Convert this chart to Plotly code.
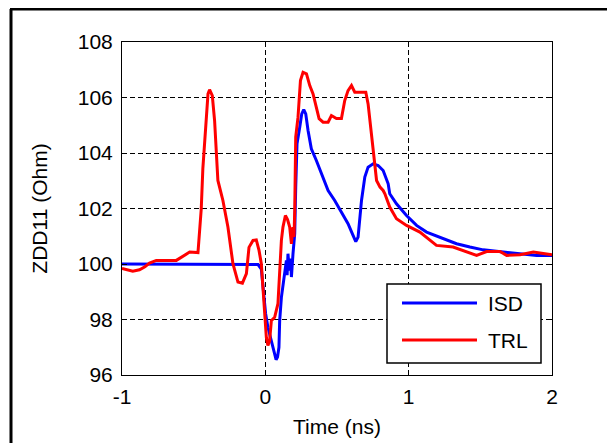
import plotly.graph_objects as go

# ---- data ----
isd_t = [-1.0, -0.063, -0.051, -0.028, -0.017, 0.002, 0.018, 0.042, 0.065, 0.075, 0.085, 0.095,
         0.10, 0.112, 0.128, 0.14, 0.147, 0.152, 0.158, 0.165, 0.17, 0.176, 0.182, 0.193, 0.205,
         0.212, 0.221, 0.24, 0.254, 0.268, 0.282, 0.298, 0.321, 0.356, 0.391, 0.438, 0.484, 0.531,
         0.577, 0.612, 0.631, 0.647, 0.671, 0.694, 0.717, 0.752, 0.787, 0.822, 0.857, 0.868, 0.915,
         0.985, 1.055, 1.125, 1.218, 1.334, 1.427, 1.52, 1.66, 1.777, 1.893, 2.0]
isd_z = [100.0, 100.0, 99.98, 99.82, 99.17, 98.21, 97.72, 97.24, 96.82, 96.55, 96.65, 97.0,
         97.96, 98.8, 99.41, 100.0, 100.13, 99.6, 100.37, 99.9, 99.77, 100.2, 99.53, 100.37, 101.09,
         102.77, 104.33, 104.93, 105.41, 105.56, 105.41, 104.81, 104.15, 103.73, 103.25, 102.65, 102.29, 101.87,
         101.45, 101.03, 100.81, 100.97, 102.29, 103.13, 103.49, 103.61, 103.55, 103.37, 102.89, 102.53, 102.17,
         101.75, 101.39, 101.15, 100.97, 100.73, 100.61, 100.51, 100.43, 100.37, 100.31, 100.31]

trl_t = [-1.0, -0.96, -0.925, -0.878, -0.84, -0.808, -0.761, -0.621, -0.575, -0.528, -0.47, -0.459,
         -0.447, -0.436, -0.417, -0.40, -0.389, -0.37, -0.354, -0.338, -0.331, -0.296, -0.261, -0.226,
         -0.191, -0.16, -0.132, -0.114, -0.086, -0.063, -0.044, -0.028, -0.017, -0.005, 0.007, 0.018,
         0.03, 0.042, 0.065, 0.088, 0.100, 0.112, 0.123, 0.140, 0.155, 0.170, 0.182, 0.193, 0.200,
         0.205, 0.212, 0.228, 0.245, 0.263, 0.287, 0.31, 0.333, 0.357, 0.375, 0.403, 0.438, 0.461,
         0.496, 0.531, 0.554, 0.577, 0.601, 0.624, 0.659, 0.701, 0.717, 0.741, 0.759, 0.776, 0.80,
         0.822, 0.834, 0.868, 0.915, 0.985, 1.078, 1.148, 1.194, 1.31, 1.404, 1.474, 1.544, 1.637,
         1.684, 1.777, 1.87, 2.0]
trl_z = [99.84, 99.78, 99.74, 99.79, 99.9, 100.03, 100.13, 100.13, 100.29, 100.43, 100.41, 101.09,
         101.99, 103.43, 104.93, 106.13, 106.28, 106.07, 105.17, 103.85, 103.01, 102.29, 101.33, 100.01,
         99.35, 99.31, 99.65, 100.6, 100.85, 100.87, 100.49, 100.01, 99.17, 98.21, 97.36, 97.06,
         97.24, 97.96, 98.08, 98.57, 99.77, 100.85, 101.33, 101.75, 101.6, 101.33, 100.73, 101.33, 100.97,
         101.93, 104.57, 105.29, 106.61, 106.91, 106.85, 106.43, 106.13, 105.65, 105.24, 105.11, 105.11, 105.35,
         105.24, 105.24, 105.89, 106.25, 106.43, 106.19, 106.19, 106.19, 105.77, 104.57, 103.73, 103.01, 102.77,
         102.65, 102.53, 102.05, 101.63, 101.39, 101.15, 100.85, 100.67, 100.61, 100.43, 100.31, 100.45, 100.45,
         100.31, 100.33, 100.43, 100.33]

series_names = ["ISD", "TRL"]
series_colors = ["#0000FF", "#FF0000"]
x_ticks = [-1, 0, 1, 2]
y_ticks = [96, 98, 100, 102, 104, 106, 108]

FONT = "Liberation Sans, Arial, sans-serif"
FS = 21

fig = go.Figure()
fig.add_trace(go.Scatter(x=isd_t, y=isd_z, mode="lines", name=series_names[0],
                         line=dict(color=series_colors[0], width=3), showlegend=False))
fig.add_trace(go.Scatter(x=trl_t, y=trl_z, mode="lines", name=series_names[1],
                         line=dict(color=series_colors[1], width=3), showlegend=False))

axis_common = dict(showline=True, linecolor="black", linewidth=1, mirror="ticks",
                   ticks="inside", ticklen=5, tickcolor="black",
                   showgrid=True, gridcolor="#000000", griddash="5px,3px", gridwidth=1.2,
                   zeroline=False, tickfont=dict(family=FONT, size=FS, color="black"))

fig.update_xaxes(range=[-1, 2], tickvals=x_ticks, ticktext=[str(v) for v in x_ticks],
                 title=dict(text="Time (ns)", font=dict(family=FONT, size=FS, color="black"), standoff=12),
                 ticklabelstandoff=3, **axis_common)
fig.update_yaxes(range=[96, 108], tickvals=y_ticks, ticktext=[str(v) for v in y_ticks],
                 title=dict(text="ZDD11 (Ohm)", font=dict(family=FONT, size=FS, color="black"), standoff=24),
                 ticklabelstandoff=4, **axis_common)

# The page body has an 8 px margin, so the figure is laid out 8 px smaller and shifted.
OFF = 8
FIG_W, FIG_H = 615 - OFF, 443 - OFF
L, T_, W, H = 122 - OFF, 42 - OFF, 430, 333


def px(xp):
    return (xp - OFF - L) / W


def py(yp):
    return (T_ + H - (yp - OFF)) / H


shapes = [
    dict(type="rect", xref="paper", yref="paper", x0=px(387), x1=px(541), y0=py(363), y1=py(284),
         line=dict(color="black", width=1.5), fillcolor="white", layer="above"),
    dict(type="line", xref="paper", yref="paper", x0=px(402), x1=px(477), y0=py(303), y1=py(303),
         line=dict(color=series_colors[0], width=3), layer="above"),
    dict(type="line", xref="paper", yref="paper", x0=px(402), x1=px(477), y0=py(340), y1=py(340),
         line=dict(color=series_colors[1], width=3), layer="above"),
    # outer figure frame
    dict(type="line", xref="paper", yref="paper", x0=px(11), x1=px(11), y0=py(443), y1=py(9),
         line=dict(color="black", width=3)),
    dict(type="line", xref="paper", yref="paper", x0=px(10), x1=px(615), y0=py(9), y1=py(9),
         line=dict(color="black", width=3)),
]
annotations = [
    dict(text=series_names[0], xref="paper", yref="paper", x=px(486), y=py(303), xanchor="left",
         yanchor="middle", showarrow=False, font=dict(family=FONT, size=FS, color="black")),
    dict(text=series_names[1], xref="paper", yref="paper", x=px(486), y=py(340), xanchor="left",
         yanchor="middle", showarrow=False, font=dict(family=FONT, size=FS, color="black")),
]

fig.update_layout(width=FIG_W, height=FIG_H,
                  margin=dict(l=L, r=FIG_W - L - W, t=T_, b=FIG_H - T_ - H, autoexpand=False),
                  paper_bgcolor="white", plot_bgcolor="white", shapes=shapes, annotations=annotations,
                  showlegend=False)

fig.write_html("out.html")
